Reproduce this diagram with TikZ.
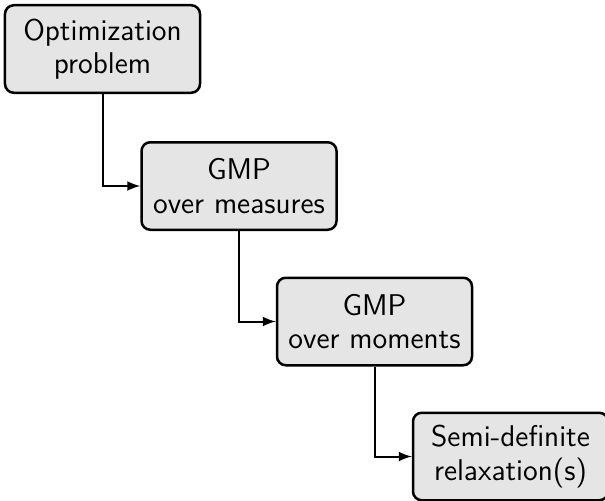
\documentclass[tikz,border=0pt]{standalone}
\usepackage{tikz}
\usetikzlibrary{arrows}
\tikzstyle{stage} = [draw, line width=1pt, fill=gray!20, rounded corners=3.5pt, align=center, minimum width=78pt, minimum height=35pt, inner sep=2pt, font=\sffamily\fontsize{12}{13.4}\selectfont]

\begin{document}
\begin{tikzpicture}[x=0.4pt, y=-0.4pt, >=latex, every node/.style={stage}]
    \useasboundingbox (0,0) rectangle (605,500);
    \clip (0,0) rectangle (605,500);
    \draw (102.5,49) node (opt) {Optimization\\problem};
    \draw (239,186) node (meas) {GMP\\over measures};
    \draw (374.5,321.5) node (mom) {GMP\\over moments};
    \draw (510.5,456.5) node (sdp) {Semi-definite\\relaxation(s)};
    \draw [->, line width=0.8pt] (opt.south) |- (meas.west);
    \draw [->, line width=0.8pt] (meas.south) |- (mom.west);
    \draw [->, line width=0.8pt] (mom.south) |- (sdp.west);
\end{tikzpicture}
\end{document}
